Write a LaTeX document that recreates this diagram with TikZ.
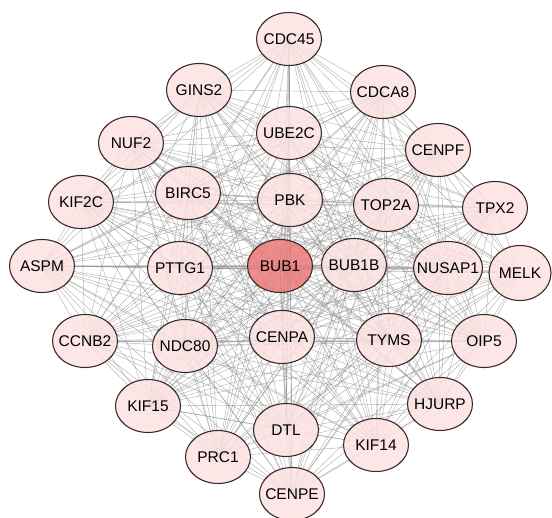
\documentclass[tikz,border=0pt]{standalone}
\usepackage{fontspec}
\setmainfont{Liberation Sans}
\usetikzlibrary{shapes.geometric}
\pgfdeclarelayer{bg}
\pgfsetlayers{bg,main}
\definecolor{nodefill}{RGB}{252,226,226}
\definecolor{hubfill}{RGB}{236,122,122}
\definecolor{nodeline}{RGB}{60,42,42}
\definecolor{edgecol}{RGB}{140,140,140}
\newcommand\gn[1]{\makebox[0pt]{#1}}
\tikzset{
  gene/.style={ellipse, draw=nodeline, line width=1.1pt, fill=nodefill, fill opacity=0.85, text opacity=1,
    minimum width=65pt, minimum height=53pt, inner sep=0pt, font=\fontsize{15.5}{17}\selectfont},
  hub/.style={gene, fill=hubfill},
  link/.style={draw=edgecol, line width=0.45pt, draw opacity=0.65}
}
\begin{document}
\begin{tikzpicture}[x=1pt,y=-1pt]
\useasboundingbox (0,0) rectangle (552,518);
\node[gene] (CDC45) at (289,39) {\gn{CDC45}};
\node[gene] (GINS2) at (199,90) {\gn{GINS2}};
\node[gene] (CDCA8) at (383,92) {\gn{CDCA8}};
\node[gene] (NUF2) at (131,143) {\gn{NUF2}};
\node[gene] (UBE2C) at (289,133) {\gn{UBE2C}};
\node[gene] (CENPF) at (438,150) {\gn{CENPF}};
\node[gene] (KIF2C) at (81,202) {\gn{KIF2C}};
\node[gene] (BIRC5) at (188,193) {\gn{BIRC5}};
\node[gene] (PBK) at (290,200) {\gn{PBK}};
\node[gene] (TOP2A) at (386,205) {\gn{TOP2A}};
\node[gene] (TPX2) at (495,208) {\gn{TPX2}};
\node[gene] (ASPM) at (42,266) {\gn{ASPM}};
\node[gene] (PTTG1) at (180,268) {\gn{PTTG1}};
\node[hub] (BUB1) at (280,266) {\gn{BUB1}};
\node[gene] (BUB1B) at (354,265) {\gn{BUB1B}};
\node[gene, minimum width=69pt] (NUSAP1) at (448,268) {\gn{NUSAP1}};
\node[gene, minimum width=62pt, minimum height=55pt] (MELK) at (520,273) {\gn{MELK}};
\node[gene] (CCNB2) at (85,341) {\gn{CCNB2}};
\node[gene] (NDC80) at (185,346) {\gn{NDC80}};
\node[gene] (CENPA) at (282,337) {\gn{CENPA}};
\node[gene] (TYMS) at (389,340) {\gn{TYMS}};
\node[gene] (OIP5) at (484,341) {\gn{OIP5}};
\node[gene] (KIF15) at (148,406) {\gn{KIF15}};
\node[gene] (HJURP) at (440,404) {\gn{HJURP}};
\node[gene] (DTL) at (286,430) {\gn{DTL}};
\node[gene] (KIF14) at (376,445) {\gn{KIF14}};
\node[gene] (PRC1) at (218,457) {\gn{PRC1}};
\node[gene] (CENPE) at (292,494) {\gn{CENPE}};
\begin{pgfonlayer}{bg}
\foreach \a [count=\i] in {CDC45,GINS2,CDCA8,NUF2,UBE2C,CENPF,KIF2C,BIRC5,PBK,TOP2A,TPX2,ASPM,PTTG1,BUB1,BUB1B,NUSAP1,MELK,CCNB2,NDC80,CENPA,TYMS,OIP5,KIF15,HJURP,DTL,KIF14,PRC1,CENPE}{
  \foreach \b [count=\j] in {CDC45,GINS2,CDCA8,NUF2,UBE2C,CENPF,KIF2C,BIRC5,PBK,TOP2A,TPX2,ASPM,PTTG1,BUB1,BUB1B,NUSAP1,MELK,CCNB2,NDC80,CENPA,TYMS,OIP5,KIF15,HJURP,DTL,KIF14,PRC1,CENPE}{
    \ifnum\j>\i \draw[link] (\a.center) -- (\b.center); \fi
  }
}
\end{pgfonlayer}
\end{tikzpicture}
\end{document}
